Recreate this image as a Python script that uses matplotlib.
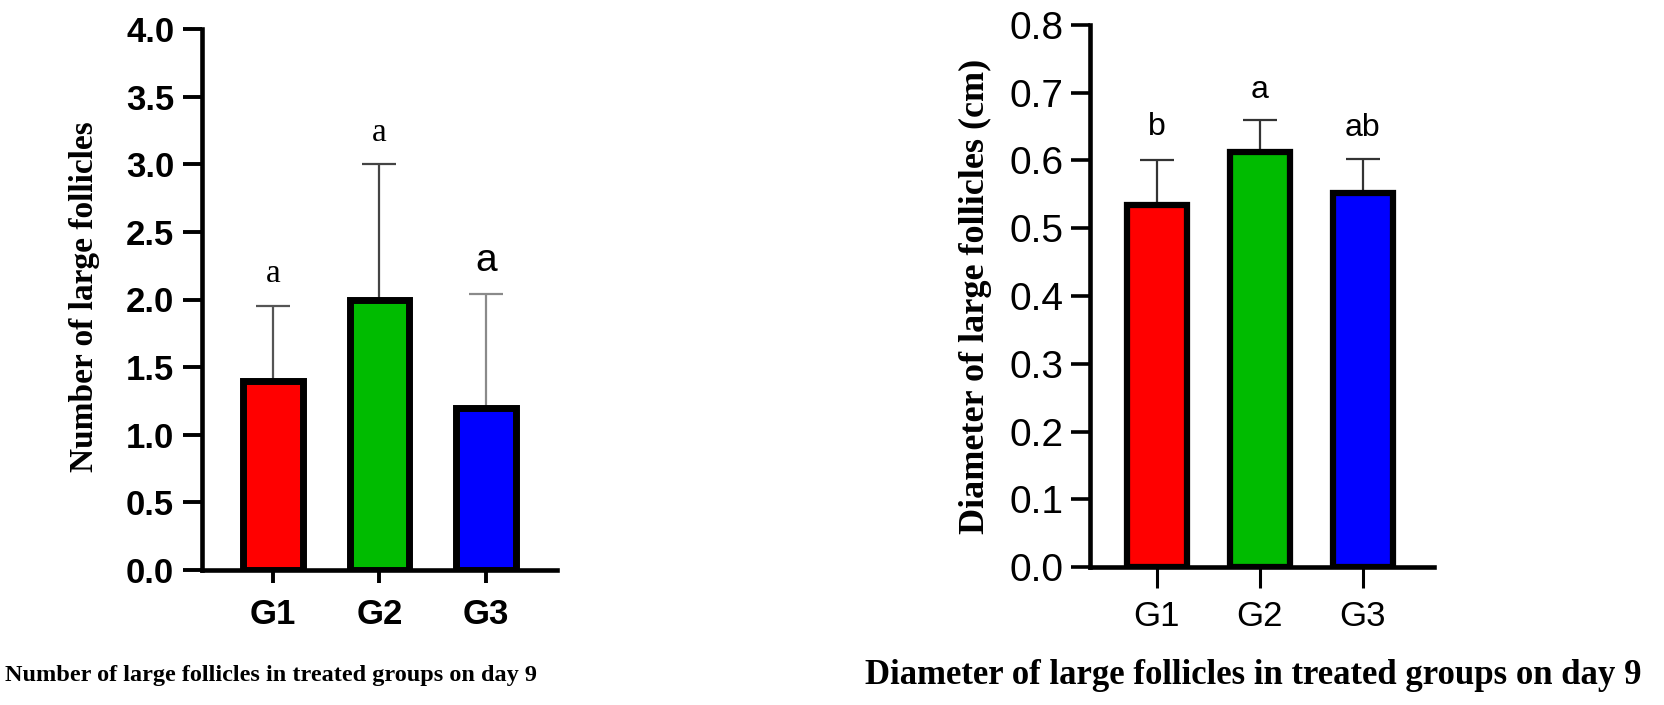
import numpy as np
import matplotlib
matplotlib.use("Agg")
import matplotlib.pyplot as plt

# --- data ---
groups = ["G1", "G2", "G3"]
bar_colors = ["#ff0000", "#00bb00", "#0000ff"]

# panel A: number of large follicles
count_mean = [1.4, 2.0, 1.2]
count_sd = [0.55, 1.0, 0.84]
count_letters = ["a", "a", "a"]
count_letter_y = [2.13, 3.17, 2.21]

# panel B: diameter of large follicles (cm)
diam_mean = [0.535, 0.612, 0.552]
diam_sd = [0.065, 0.048, 0.05]
diam_letters = ["b", "a", "ab"]
diam_letter_y = [0.638, 0.692, 0.636]

serif = ["Liberation Serif", "DejaVu Serif"]
narrow = ["Liberation Sans Narrow", "Liberation Sans", "DejaVu Sans"]
sans = ["Liberation Sans", "DejaVu Sans"]

fig = plt.figure(figsize=(16.65, 7.05), dpi=100)
axA = fig.add_axes([202 / 1665, 135 / 705, 355 / 1665, 541 / 705])
axB = fig.add_axes([1090 / 1665, 138 / 705, 344 / 1665, 542 / 705])

x = np.arange(len(groups))


def style_axes(ax, spine_w):
    for s in ["top", "right"]:
        ax.spines[s].set_visible(False)
    for s in ["left", "bottom"]:
        ax.spines[s].set_linewidth(spine_w)
    ax.set_xticks(x)
    ax.set_xticklabels(groups)


# ---------- panel A ----------
err_cols_A = ["#555555", "#444444", "#8a8a8a"]
for i in range(3):
    axA.errorbar(x[i], count_mean[i], yerr=[[0], [count_sd[i]]], fmt="none",
                 ecolor=err_cols_A[i], elinewidth=1.6, capsize=12, capthick=1.6,
                 zorder=1)
axA.bar(x, count_mean, width=0.56, color=bar_colors, edgecolor="black",
        linewidth=5, zorder=2)
axA.set_xlim(-0.67, 2.67)
axA.set_ylim(0, 4.0)
axA.set_yticks(np.arange(0, 4.01, 0.5))
axA.set_yticklabels([f"{v:.1f}" for v in np.arange(0, 4.01, 0.5)])
style_axes(axA, 3.3)
axA.tick_params(axis="y", length=14, width=2.8, pad=6)
axA.tick_params(axis="x", length=9, width=2.8, pad=11)
for lab in axA.get_yticklabels() + axA.get_xticklabels():
    lab.set_fontfamily(sans)
    lab.set_fontweight("bold")
    lab.set_fontsize(25)
axA.set_ylabel("Number of large follicles", family=serif, fontweight="bold",
               fontsize=24, va="center")
axA.yaxis.set_label_coords(-0.33, 0.506)
for i in range(3):
    if i < 2:
        axA.text(x[i], count_letter_y[i], count_letters[i], family=serif,
                 fontsize=24, ha="center", va="baseline")
    else:
        axA.text(x[i], count_letter_y[i], count_letters[i], family=sans,
                 fontsize=28, ha="center", va="baseline")

# ---------- panel B ----------
for i in range(3):
    axB.errorbar(x[i], diam_mean[i], yerr=[[0], [diam_sd[i]]], fmt="none",
                 ecolor="#333333", elinewidth=1.6, capsize=12, capthick=1.6,
                 zorder=1)
axB.bar(x, diam_mean, width=0.58, color=bar_colors, edgecolor="black",
        linewidth=4.5, zorder=2)
axB.set_xlim(-0.65, 2.69)
axB.set_ylim(0, 0.8)
axB.set_yticks(np.arange(0, 0.81, 0.1))
axB.set_yticklabels([f"{v:.1f}" for v in np.arange(0, 0.81, 0.1)])
style_axes(axB, 3.3)
axB.tick_params(axis="y", length=14, width=2.6, pad=5)
axB.tick_params(axis="x", length=15, width=2.2, pad=9)
for lab in axB.get_yticklabels():
    lab.set_fontfamily(narrow)
    lab.set_fontsize(28)
for lab in axB.get_xticklabels():
    lab.set_fontfamily(narrow)
    lab.set_fontsize(25)
axB.set_ylabel("Diameter of large follicles (cm)", family=serif,
               fontweight="bold", fontsize=26, va="center")
axB.yaxis.set_label_coords(-0.334, 0.50)
for i in range(3):
    axB.text(x[i], diam_letter_y[i], diam_letters[i], family=narrow,
             fontsize=23, ha="center", va="baseline")

# captions under each panel
fig.text(271 / 1665, 1 - 675 / 705,
         "Number of large follicles in treated groups on day 9",
         family=serif, fontweight="bold", fontsize=17.5, ha="center", va="center")
fig.text(1253 / 1665, 1 - 675 / 705,
         "Diameter of large follicles in treated groups on day 9",
         family=serif, fontweight="bold", fontsize=25, ha="center", va="center")

fig.savefig("out.png", dpi=100, facecolor="white")
